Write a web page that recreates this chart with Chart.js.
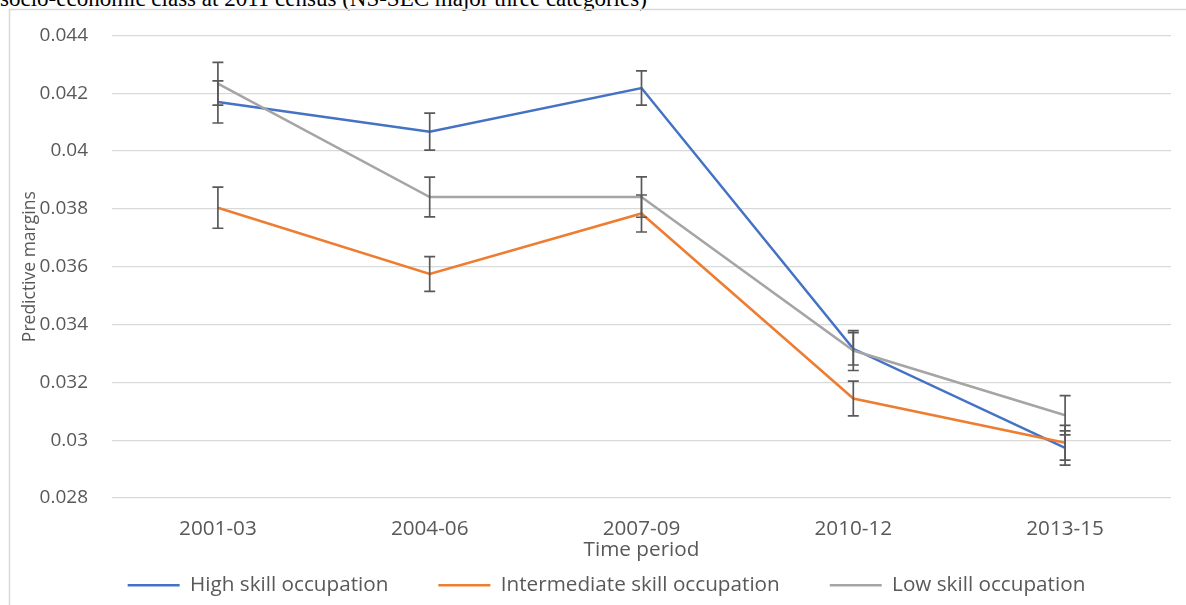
<!DOCTYPE html>
<html>
<head>
<meta charset="utf-8">
<script src="https://cdn.jsdelivr.net/npm/chart.js@4"></script>
<style>
  html, body { margin: 0; padding: 0; background: #fff; overflow: hidden; }
  #wrap { position: relative; width: 1186px; height: 605px; overflow: hidden; }
  #caption {
    position: absolute; left: 0; top: -13px;
    font-family: "Liberation Serif", "Times New Roman", serif;
    font-size: 23px; line-height: 23px; white-space: nowrap; color: #000;
  }
  canvas { position: absolute; left: 0; top: 0; }
</style>
</head>
<body>
<div id="wrap">
  <div id="caption">socio-economic class at 2011 census (NS-SEC major three categories)</div>
  <canvas id="c" width="1186" height="605"></canvas>
</div>
<script>
// Time periods on the x axis
const periods = ['2001-03', '2004-06', '2007-09', '2010-12', '2013-15'];

// Predictive margins by occupation class
const highSkill = [0.0417, 0.04067, 0.04218, 0.03316, 0.02973];
const intermediateSkill = [0.03804, 0.03575, 0.03784, 0.03144, 0.02991];
const lowSkill = [0.04233, 0.03841, 0.03841, 0.0331, 0.03086];

// Half-width of the confidence interval at each period
const highSkillErr = [0.00073, 0.00064, 0.00059, 0.00056, 0.00059];
const intermediateSkillErr = [0.00071, 0.0006, 0.00064, 0.0006, 0.0006];
const lowSkillErr = [0.00074, 0.00069, 0.0007, 0.00069, 0.00068];

// Value axis range
const yMin = 0.028;
const yMax = 0.044;
const yStep = 0.002;

const TEXT = '#595959';
const FAMILY = '"Open Sans", "Noto Sans", sans-serif';
const FONT = { family: FAMILY, size: 20.7 };
const Y_TICK_FONT = { family: FAMILY, size: 19 };
const Y_TITLE_FONT = { family: FAMILY, size: 17.5 };

// Outline of the chart box
const chartFrame = {
  id: 'chartFrame',
  beforeDraw(chart) {
    const ctx = chart.ctx;
    ctx.save();
    ctx.strokeStyle = '#D9D9D9';
    ctx.lineWidth = 1.5;
    ctx.strokeRect(9.5, 9.5, 1300, 700);
    ctx.restore();
  }
};

// Vertical interval whiskers with caps at each point
const errorBars = {
  id: 'errorBars',
  afterDatasetsDraw(chart) {
    const ctx = chart.ctx;
    const y = chart.scales.y;
    ctx.save();
    ctx.strokeStyle = '#595959';
    ctx.lineWidth = 1.7;
    chart.data.datasets.forEach((ds, i) => {
      const meta = chart.getDatasetMeta(i);
      meta.data.forEach((pt, j) => {
        const v = ds.data[j], e = ds.errors[j];
        const top = y.getPixelForValue(v + e);
        const bot = y.getPixelForValue(v - e);
        const x = pt.x;
        ctx.beginPath();
        ctx.moveTo(x, top); ctx.lineTo(x, bot);
        ctx.moveTo(x - 5.5, top); ctx.lineTo(x + 5.5, top);
        ctx.moveTo(x - 5.5, bot); ctx.lineTo(x + 5.5, bot);
        ctx.stroke();
      });
    });
    ctx.restore();
  }
};

// Legend sits below the axis title; move its drawing row into place
const legendPlacement = {
  id: 'legendPlacement',
  afterLayout(chart) {
    const lg = chart.legend;
    if (!lg) return;
    lg.top = 525;
    lg.left += 16;
    lg.right += 16;
  }
};

function series(label, data, errors, color, order) {
  return {
    label, data, errors, order,
    borderColor: color, backgroundColor: color,
    borderWidth: 2.5, pointRadius: 0, tension: 0, fill: false
  };
}

new Chart(document.getElementById('c'), {
  type: 'line',
  data: {
    labels: periods,
    datasets: [
      series('High skill occupation', highSkill, highSkillErr, '#4472C4', 3),
      series('Intermediate skill occupation', intermediateSkill, intermediateSkillErr, '#ED7D31', 2),
      series('Low skill occupation', lowSkill, lowSkillErr, '#A5A5A5', 1)
    ]
  },
  options: {
    responsive: false,
    animation: false,
    layout: { padding: { left: 10, right: 15, top: 34, bottom: 0 } },
    scales: {
      x: {
        offset: true,
        grid: { display: false, drawTicks: false },
        border: { display: false },
        ticks: { color: TEXT, font: FONT, padding: 19, maxRotation: 0, autoSkip: false },
        title: { display: true, text: 'Time period', color: TEXT, font: FONT, padding: { top: 0, bottom: 2 } },
        afterFit(s) { s.height = 67; }
      },
      y: {
        min: yMin, max: yMax,
        grid: { color: '#D9D9D9', lineWidth: 1.2, drawTicks: false },
        border: { display: false },
        ticks: {
          stepSize: yStep, color: TEXT, font: Y_TICK_FONT, padding: 24,
          callback: (v) => String(+Number(v).toFixed(3))
        },
        title: { display: true, text: 'Predictive margins', color: TEXT, font: Y_TITLE_FONT, padding: { top: 9.5, bottom: 0 } },
        afterFit(s) { s.width = 102; }
      }
    },
    plugins: {
      legend: {
        position: 'bottom',
        maxHeight: 40,
        labels: {
          usePointStyle: true, pointStyle: 'line', pointStyleWidth: 52,
          padding: 50, color: TEXT, font: FONT,
          sort: (a, b) => a.datasetIndex - b.datasetIndex
        }
      },
      tooltip: { enabled: false }
    }
  },
  plugins: [chartFrame, errorBars, legendPlacement]
});
</script>
</body>
</html>
